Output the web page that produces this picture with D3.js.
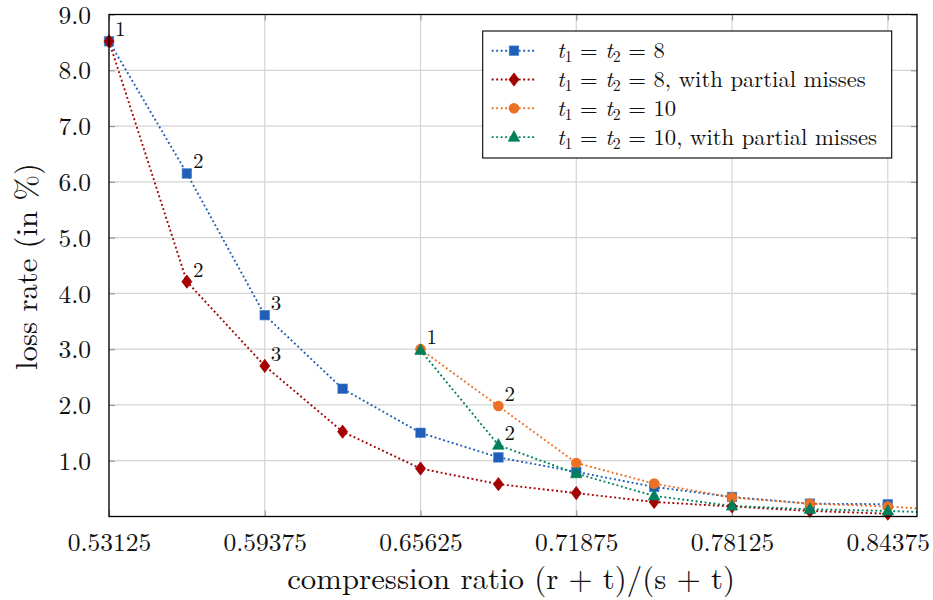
<!DOCTYPE html>
<html>
<head>
<meta charset="utf-8">
<script src="https://cdn.jsdelivr.net/npm/d3@7"></script>
<style>
  html, body { margin: 0; padding: 0; background: #fff; }
  svg { display: block; }
</style>
</head>
<body>
<svg id="chart" width="933" height="600"></svg>
<script>
// ---------- data ----------
const xTickValues = [0.53125, 0.59375, 0.65625, 0.71875, 0.78125, 0.84375];
const yTickValues = [1, 2, 3, 4, 5, 6, 7, 8, 9];

const ratioT8 = [0.53125, 0.5625, 0.59375, 0.625, 0.65625, 0.6875, 0.71875, 0.75, 0.78125, 0.8125, 0.84375];
const lossT8 = [8.52, 6.15, 3.61, 2.29, 1.50, 1.06, 0.80, 0.53, 0.35, 0.23, 0.22];
const lossT8Partial = [8.52, 4.21, 2.70, 1.52, 0.86, 0.58, 0.42, 0.26, 0.18, 0.10, 0.05];

const ratioT10 = [0.65625, 0.6875, 0.71875, 0.75, 0.78125, 0.8125, 0.84375, 0.875];
const lossT10 = [3.00, 1.98, 0.96, 0.59, 0.34, 0.23, 0.18, 0.09];
const lossT10Partial = [2.98, 1.28, 0.77, 0.37, 0.19, 0.13, 0.10, 0.05];

const labelsT8 = ["1", "2", "3"];
const labelsT8Partial = [null, "2", "3"];
const labelsT10 = ["1", "2"];
const labelsT10Partial = [null, "2"];

const seriesNames = [
  { t: "8", rest: "" },
  { t: "8", rest: ", with partial misses" },
  { t: "10", rest: "" },
  { t: "10", rest: ", with partial misses" }
];

// ---------- layout ----------
const FONT = '"Latin Modern Roman", "Liberation Serif", "Times New Roman", serif';
const svg = d3.select("#chart");
const pL = 109, pR = 917, pT = 14.5, pB = 516.5;
const x = d3.scaleLinear().domain([0.53125, 0.85547]).range([pL, pR]);
const y = d3.scaleLinear().domain([0, 9]).range([pB, pT]);

const colors = ["#1f5fb8", "#a40000", "#ea7125", "#00805a"];
const series = [
  { xs: ratioT8, ys: lossT8, labels: labelsT8, marker: "square" },
  { xs: ratioT8, ys: lossT8Partial, labels: labelsT8Partial, marker: "diamond" },
  { xs: ratioT10, ys: lossT10, labels: labelsT10, marker: "circle" },
  { xs: ratioT10, ys: lossT10Partial, labels: labelsT10Partial, marker: "triangle" }
];

function fit(sel, target) {
  const fs = parseFloat(sel.style("font-size"));
  const w = sel.node().getComputedTextLength();
  if (w > 0) sel.style("font-size", (fs * target / w).toFixed(2) + "px");
}

// clip
svg.append("defs").append("clipPath").attr("id", "plotclip")
  .append("rect").attr("x", pL).attr("y", pT).attr("width", pR - pL).attr("height", pB - pT);

// grid
const grid = svg.append("g");
grid.selectAll("line.vx").data(xTickValues).join("line")
  .attr("x1", d => x(d)).attr("x2", d => x(d)).attr("y1", pT).attr("y2", pB)
  .attr("stroke", "#d4d4d4").attr("stroke-width", 1.2);
grid.selectAll("line.hy").data(yTickValues).join("line")
  .attr("y1", d => y(d)).attr("y2", d => y(d)).attr("x1", pL).attr("x2", pR)
  .attr("stroke", "#d4d4d4").attr("stroke-width", 1.2);

// axes with inner ticks (gray)
const tickColor = "#9a9a9a";
const tl = 6;
const axB = svg.append("g").attr("transform", `translate(0,${pB})`)
  .call(d3.axisBottom(x).tickValues(xTickValues).tickSize(-tl).tickPadding(17).tickFormat(d3.format(".5f")));
const axT = svg.append("g").attr("transform", `translate(0,${pT})`)
  .call(d3.axisTop(x).tickValues(xTickValues).tickSize(-tl).tickFormat(""));
const axL = svg.append("g").attr("transform", `translate(${pL},0)`)
  .call(d3.axisLeft(y).tickValues(yTickValues).tickSize(-tl).tickPadding(18).tickFormat(d3.format(".1f")));
const axR = svg.append("g").attr("transform", `translate(${pR},0)`)
  .call(d3.axisRight(y).tickValues(yTickValues).tickSize(-tl).tickFormat(""));
[axB, axT, axL, axR].forEach(a => {
  a.select(".domain").remove();
  a.selectAll(".tick line").attr("stroke", tickColor).attr("stroke-width", 1.2);
  a.selectAll("text").style("font-family", FONT).style("font-size", "25.5px").attr("fill", "#111");
});
axB.selectAll(".tick text").attr("dy", "0.7em");
axL.selectAll(".tick text").attr("dy", "0.34em");

// lines
const lineGen = d3.line().x(d => x(d[0])).y(d => y(d[1]));
const linesG = svg.append("g").attr("clip-path", "url(#plotclip)");
series.forEach((s, i) => {
  const pts = s.xs.map((v, k) => [v, s.ys[k]]);
  linesG.append("path").datum(pts).attr("d", lineGen)
    .attr("fill", "none").attr("stroke", colors[i]).attr("stroke-width", 1.9)
    .attr("stroke-dasharray", "1.9 2.6");
});

// markers
function drawMarker(g, type, cx, cy, color) {
  if (type === "square") {
    g.append("rect").attr("x", cx - 4.8).attr("y", cy - 4.8).attr("width", 9.6).attr("height", 9.6)
      .attr("fill", color).attr("stroke", "#4d85cf").attr("stroke-width", 0.6);
  } else if (type === "diamond") {
    g.append("path").attr("d", `M${cx},${cy - 6.6}L${cx + 5},${cy}L${cx},${cy + 6.6}L${cx - 5},${cy}Z`)
      .attr("fill", color).attr("stroke", color).attr("stroke-width", 0.8);
  } else if (type === "circle") {
    g.append("circle").attr("cx", cx).attr("cy", cy).attr("r", 5.3).attr("fill", color);
  } else if (type === "triangle") {
    g.append("path").attr("d", `M${cx},${cy - 6.5}L${cx + 5.8},${cy + 4.2}L${cx - 5.8},${cy + 4.2}Z`)
      .attr("fill", color).attr("stroke", color).attr("stroke-width", 0.6);
  }
}
const marksG = svg.append("g");
series.forEach((s, i) => {
  s.xs.forEach((v, k) => {
    if (v > x.domain()[1]) return;
    drawMarker(marksG, s.marker, x(v), y(s.ys[k]), colors[i]);
  });
});

// frame
svg.append("rect").attr("x", pL).attr("y", pT).attr("width", pR - pL).attr("height", pB - pT)
  .attr("fill", "none").attr("stroke", "#000").attr("stroke-width", 1.3);

// point labels
const labG = svg.append("g");
series.forEach(s => {
  s.labels.forEach((lab, k) => {
    if (!lab) return;
    labG.append("text").attr("x", x(s.xs[k]) + 6).attr("y", y(s.ys[k]) - 5)
      .style("font-family", FONT).style("font-size", "21px").attr("fill", "#111").text(lab);
  });
});

// axis titles
const xTitle = svg.append("text").attr("x", 511).attr("y", 588.5).attr("text-anchor", "middle")
  .style("font-family", FONT).style("font-size", "28px").attr("fill", "#111")
  .text("compression ratio (r + t)/(s + t)");
fit(xTitle, 448);
const yTitle = svg.append("text").attr("transform", `translate(37,266.5) rotate(-90)`).attr("text-anchor", "middle")
  .style("font-family", FONT).style("font-size", "28px").attr("fill", "#111")
  .text("loss rate (in %)");
fit(yTitle, 207);

// legend
const lg = svg.append("g");
lg.append("rect").attr("x", 482.7).attr("y", 31).attr("width", 409).attr("height", 127)
  .attr("fill", "#fff").attr("stroke", "#000").attr("stroke-width", 1.1);
const rowY = [50.7, 79.5, 108.3, 137.1];
const legendTexts = [];
seriesNames.forEach((nm, i) => {
  const ry = rowY[i];
  lg.append("line").attr("x1", 491.7).attr("x2", 536.7).attr("y1", ry).attr("y2", ry)
    .attr("stroke", colors[i]).attr("stroke-width", 1.9).attr("stroke-dasharray", "1.9 2.6");
  drawMarker(lg, series[i].marker, 514, ry, colors[i]);
  const t = lg.append("text").attr("x", 557).attr("y", ry + 7.5)
    .style("font-family", FONT).style("font-size", "23px").attr("fill", "#111");
  t.append("tspan").attr("font-style", "italic").text("t");
  t.append("tspan").style("font-size", "0.7em").attr("dy", 4).text("1");
  t.append("tspan").attr("dy", -4).text(" = ");
  t.append("tspan").attr("font-style", "italic").text("t");
  t.append("tspan").style("font-size", "0.7em").attr("dy", 4).text("2");
  t.append("tspan").attr("dy", -4).text(" = " + nm.t + nm.rest);
  legendTexts.push(t);
});
// size legend text so that the longest row spans as in the reference
(function () {
  const t = legendTexts[3];
  const w = t.node().getComputedTextLength();
  if (w > 0) {
    const fs = 23 * 320 / w;
    legendTexts.forEach(tt => tt.style("font-size", fs.toFixed(2) + "px"));
  }
})();
</script>
</body>
</html>
